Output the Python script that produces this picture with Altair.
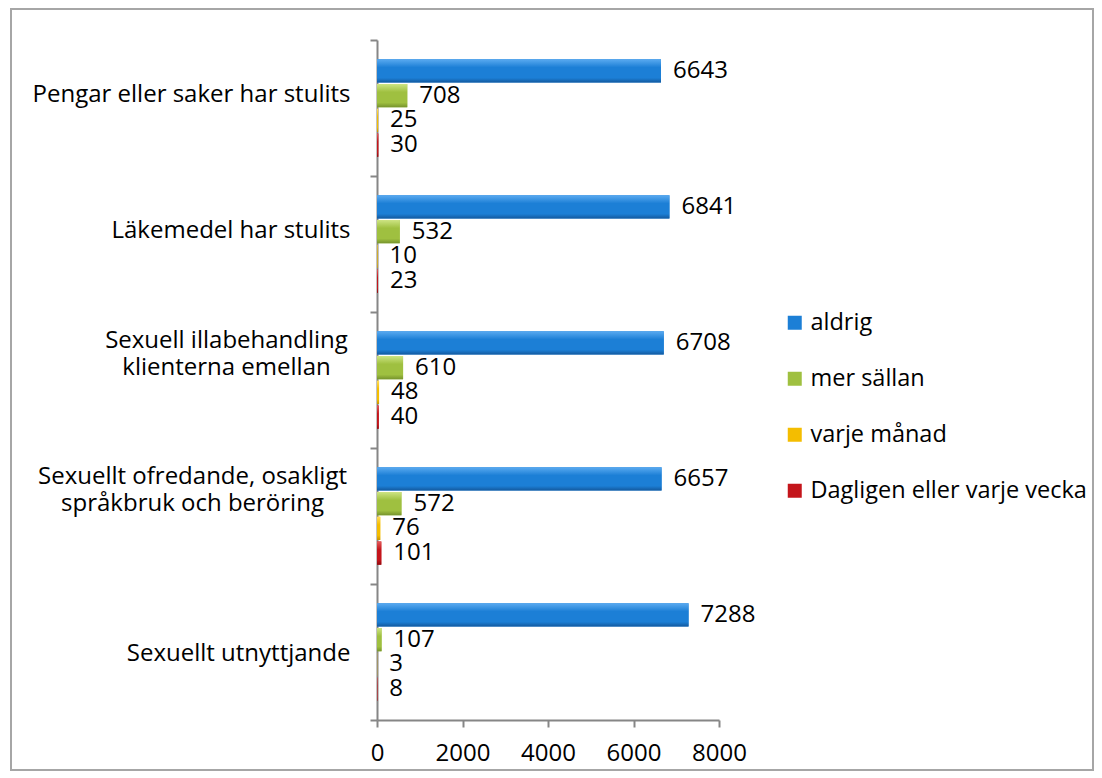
import altair as alt
import pandas as pd

categories = [
    "Pengar eller saker har stulits",
    "Läkemedel har stulits",
    "Sexuell illabehandling\nklienterna emellan",
    "Sexuellt ofredande, osakligt\nspråkbruk och beröring",
    "Sexuellt utnyttjande",
]
series = ["aldrig", "mer sällan", "varje månad", "Dagligen eller varje vecka"]
colors = ["#1c7fd6", "#9fc040", "#f4bd00", "#c4151b"]
light = ["#5aaaf0", "#cde483", "#ffdc5a", "#e45a5a"]
dark = ["#13599e", "#76932c", "#c99300", "#8e0c10"]

aldrig = [6643, 6841, 6708, 6657, 7288]
mer_sallan = [708, 532, 610, 572, 107]
varje_manad = [25, 10, 48, 76, 3]
dagligen = [30, 23, 40, 101, 8]
x_ticks = [0, 2000, 4000, 6000, 8000]

rows = []
for s, vals in zip(series, [aldrig, mer_sallan, varje_manad, dagligen]):
    for c, v in zip(categories, vals):
        rows.append({"kategori": c, "serie": s, "antal": v})
df = pd.DataFrame(rows)

FONT = "Open Sans"
FS = 24

y_scale = alt.Scale(domain=categories, paddingInner=0, paddingOuter=0)
yoff_scale = alt.Scale(domain=series, paddingInner=0.06, paddingOuter=0.78)

multi_a = "datum.label == 'Sexuell illabehandling\\nklienterna emellan'"
multi_b = "datum.label == 'Sexuellt ofredande, osakligt\\nspråkbruk och beröring'"

y_enc = alt.Y(
    "kategori:N",
    sort=categories,
    title=None,
    scale=y_scale,
    axis=alt.Axis(
        labelExpr="split(datum.label, '\\n')",
        labelFont=FONT,
        labelFontSize=FS,
        labelColor="#000000",
        labelLineHeight=27,
        labelLimit=400,
        tickBand="extent",
        tickSize=7,
        tickColor="#868686",
        tickWidth=2,
        domainColor="#868686",
        domainWidth=2,
        labelAlign={
            "condition": [
                {"test": multi_a, "value": "center"},
                {"test": multi_b, "value": "center"},
            ],
            "value": "right",
        },
        labelPadding={
            "condition": [
                {"test": multi_a, "value": 144},
                {"test": multi_b, "value": 178},
            ],
            "value": 20,
        },
        labelOffset={
            "condition": [
                {"test": multi_a, "value": -40},
                {"test": multi_b, "value": -40},
                {"test": "datum.label == 'Sexuellt utnyttjande'", "value": 1},
            ],
            "value": -14,
        },
    ),
)
x_enc = alt.X(
    "antal:Q",
    title=None,
    scale=alt.Scale(domain=[0, 8000], nice=False),
    axis=alt.Axis(
        values=x_ticks,
        format="d",
        grid=False,
        labelFont=FONT,
        labelFontSize=FS,
        labelColor="#000000",
        labelPadding=14,
        tickSize=7,
        tickColor="#868686",
        tickWidth=2,
        domainColor="#868686",
        domainWidth=2,
        labelFlush=False,
    ),
)

base_bars = alt.Chart(df).mark_bar().encode(
    y=y_enc,
    yOffset=alt.YOffset("serie:N", sort=series, scale=yoff_scale),
    x=x_enc,
    color=alt.Color(
        "serie:N",
        sort=series,
        scale=alt.Scale(domain=series, range=colors),
        legend=alt.Legend(
            title=None,
            orient="none",
            legendX=406,
            legendY=271,
            symbolType="square",
            symbolSize=196,
            symbolStrokeWidth=0,
            labelFont=FONT,
            labelFontSize=23.5,
            labelColor="#000000",
            labelLimit=400,
            labelOffset=4,
            rowPadding=31,
        ),
    ),
)

grad_layers = []
for s, lc, mc, dc in zip(series, light, colors, dark):
    grad = alt.LinearGradient(
        gradient="linear",
        x1=0, y1=0, x2=0, y2=1,
        stops=[
            alt.GradientStop(offset=0, color=lc),
            alt.GradientStop(offset=0.35, color=mc),
            alt.GradientStop(offset=0.8, color=mc),
            alt.GradientStop(offset=1, color=dc),
        ],
    )
    grad_layers.append(
        alt.Chart(df)
        .transform_filter(alt.datum.serie == s)
        .mark_bar(color=grad)
        .encode(
            y=alt.Y("kategori:N", sort=categories),
            yOffset=alt.YOffset("serie:N", sort=series),
            x="antal:Q",
        )
    )

labels = alt.Chart(df).mark_text(
    align="left", baseline="middle", dx=12, font=FONT, fontSize=FS, color="#000000"
).encode(
    y=alt.Y("kategori:N", sort=categories),
    yOffset=alt.YOffset("serie:N", sort=series),
    x="antal:Q",
    text="antal:Q",
)

border = alt.Chart(pd.DataFrame({"a": [0]})).mark_rect(
    fill="transparent", stroke="#a6a6a6", strokeWidth=2
).encode(
    x=alt.value(-366), x2=alt.value(716), y=alt.value(-31), y2=alt.value(730)
)

chart = (
    alt.layer(base_bars, *grad_layers, labels, border)
    .properties(
        width=342,
        height=680,
        autosize=alt.AutoSizeParams(type="none"),
        padding={"left": 377, "top": 40, "right": 383, "bottom": 58},
        background="#ffffff",
    )
    .configure_view(strokeWidth=0)
)

chart.save("out.html", embed_options={"renderer": "svg", "actions": False})
